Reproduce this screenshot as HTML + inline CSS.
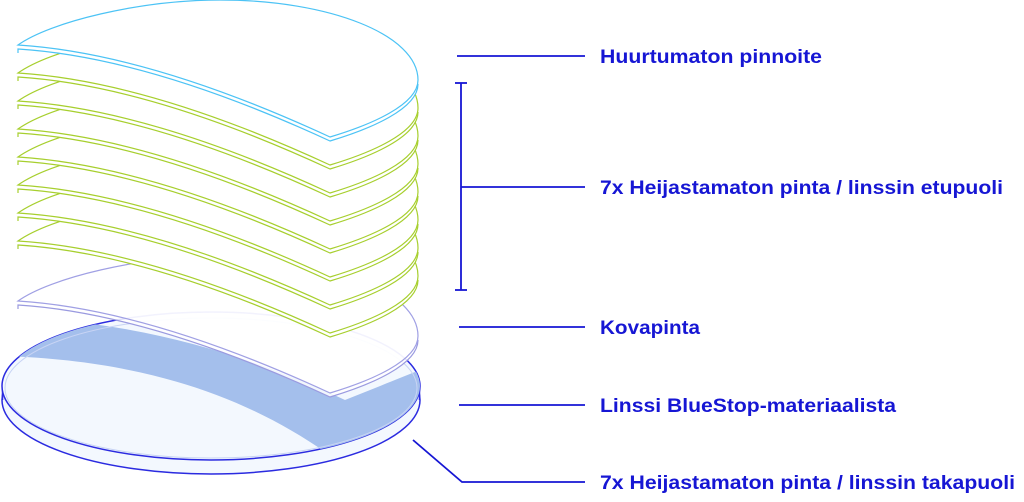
<!DOCTYPE html>
<html><head><meta charset="utf-8"><style>
html,body{margin:0;padding:0;background:#fff;width:1024px;height:502px;overflow:hidden}
svg{display:block}
text{font-family:"Liberation Sans",sans-serif;font-weight:bold;font-size:19px;fill:#1616d4}
</style></head><body>
<svg width="1024" height="502" viewBox="0 0 1024 502" xmlns="http://www.w3.org/2000/svg">
<defs>
<path id="shape" d="M18,45 C50,22 140,0 220,0 C330,0 418,35 418,80 C418,105 370,125 330,137 C250,100 130,52 18,45 Z"/>
<path id="edge" d="M418,80 C418,105 370,125 330,137 C250,100 130,52 18,45 L18,49"/>
<clipPath id="ell"><ellipse cx="211" cy="386" rx="209" ry="74"/></clipPath>
</defs>
<!-- disk -->
<ellipse cx="211" cy="400" rx="209" ry="74" fill="#f3f8fe" stroke="#2b2be0" stroke-width="1.5"/>
<rect x="2" y="386" width="418" height="14" fill="#f3f8fe"/>
<line x1="2.5" y1="386" x2="2.5" y2="400" stroke="#2b2be0" stroke-width="1.5"/>
<line x1="419.5" y1="386" x2="419.5" y2="400" stroke="#2b2be0" stroke-width="1.5"/>
<ellipse cx="211" cy="386" rx="209" ry="74" fill="#f3f8fe" stroke="#2b2be0" stroke-width="1.5"/>
<path clip-path="url(#ell)" fill="#a4bfec" d="M0,318 C140,318 260,360 345,400 C370,390 400,378 430,366 L430,470 L325,452 C250,400 150,360 0,356 Z"/>
<ellipse cx="211" cy="388" rx="206" ry="70" fill="none" stroke="#c8d4f4" stroke-width="1"/>
<!-- purple layer -->
<g transform="translate(0,260)"><use href="#shape" fill="#fff" fill-opacity="0.85"/><use href="#edge" fill="none" stroke="#9a9ae0" stroke-width="1.2"/></g>
<g transform="translate(0,256)"><use href="#shape" fill="#fff" fill-opacity="0.6"/><use href="#shape" fill="none" stroke="#a0a0e4" stroke-width="1.2"/></g>
<!-- green layers -->
<g transform="translate(0,200)"><use href="#shape" fill="#fff"/><use href="#edge" fill="none" stroke="#a7cf2e" stroke-width="1.2"/></g>
<g transform="translate(0,196)"><use href="#shape" fill="#fff"/><use href="#shape" fill="none" stroke="#a7cf2e" stroke-width="1.2"/></g>
<g transform="translate(0,172)"><use href="#shape" fill="#fff"/><use href="#edge" fill="none" stroke="#a7cf2e" stroke-width="1.2"/></g>
<g transform="translate(0,168)"><use href="#shape" fill="#fff"/><use href="#shape" fill="none" stroke="#a7cf2e" stroke-width="1.2"/></g>
<g transform="translate(0,144)"><use href="#shape" fill="#fff"/><use href="#edge" fill="none" stroke="#a7cf2e" stroke-width="1.2"/></g>
<g transform="translate(0,140)"><use href="#shape" fill="#fff"/><use href="#shape" fill="none" stroke="#a7cf2e" stroke-width="1.2"/></g>
<g transform="translate(0,116)"><use href="#shape" fill="#fff"/><use href="#edge" fill="none" stroke="#a7cf2e" stroke-width="1.2"/></g>
<g transform="translate(0,112)"><use href="#shape" fill="#fff"/><use href="#shape" fill="none" stroke="#a7cf2e" stroke-width="1.2"/></g>
<g transform="translate(0,88)"><use href="#shape" fill="#fff"/><use href="#edge" fill="none" stroke="#a7cf2e" stroke-width="1.2"/></g>
<g transform="translate(0,84)"><use href="#shape" fill="#fff"/><use href="#shape" fill="none" stroke="#a7cf2e" stroke-width="1.2"/></g>
<g transform="translate(0,60)"><use href="#shape" fill="#fff"/><use href="#edge" fill="none" stroke="#a7cf2e" stroke-width="1.2"/></g>
<g transform="translate(0,56)"><use href="#shape" fill="#fff"/><use href="#shape" fill="none" stroke="#a7cf2e" stroke-width="1.2"/></g>
<g transform="translate(0,32)"><use href="#shape" fill="#fff"/><use href="#edge" fill="none" stroke="#a7cf2e" stroke-width="1.2"/></g>
<g transform="translate(0,28)"><use href="#shape" fill="#fff"/><use href="#shape" fill="none" stroke="#a7cf2e" stroke-width="1.2"/></g>
<!-- blue top -->
<g transform="translate(0,4)"><use href="#shape" fill="#fff"/><use href="#edge" fill="none" stroke="#4cc3f5" stroke-width="1.2"/></g>
<g><use href="#shape" fill="#fff"/><use href="#shape" fill="none" stroke="#4cc3f5" stroke-width="1.2"/></g>
<!-- connectors -->
<g stroke="#1616d4" stroke-width="1.8" fill="none">
<line x1="457" y1="56" x2="585" y2="56"/>
<line x1="461" y1="83" x2="461" y2="290"/>
<line x1="455" y1="83" x2="467" y2="83"/>
<line x1="455" y1="290" x2="467" y2="290"/>
<line x1="461" y1="187" x2="585" y2="187"/>
<line x1="459" y1="327" x2="585" y2="327"/>
<line x1="459" y1="405" x2="585" y2="405"/>
<polyline points="413,440 462,482 585,482"/>
</g>
<text x="600" y="63" textLength="222" lengthAdjust="spacingAndGlyphs">Huurtumaton pinnoite</text>
<text x="600" y="194" textLength="403" lengthAdjust="spacingAndGlyphs">7x Heijastamaton pinta / linssin etupuoli</text>
<text x="600" y="334" textLength="100" lengthAdjust="spacingAndGlyphs">Kovapinta</text>
<text x="600" y="412" textLength="296" lengthAdjust="spacingAndGlyphs">Linssi BlueStop-materiaalista</text>
<text x="600" y="489" textLength="415" lengthAdjust="spacingAndGlyphs">7x Heijastamaton pinta / linssin takapuoli</text>
</svg>
</body></html>
